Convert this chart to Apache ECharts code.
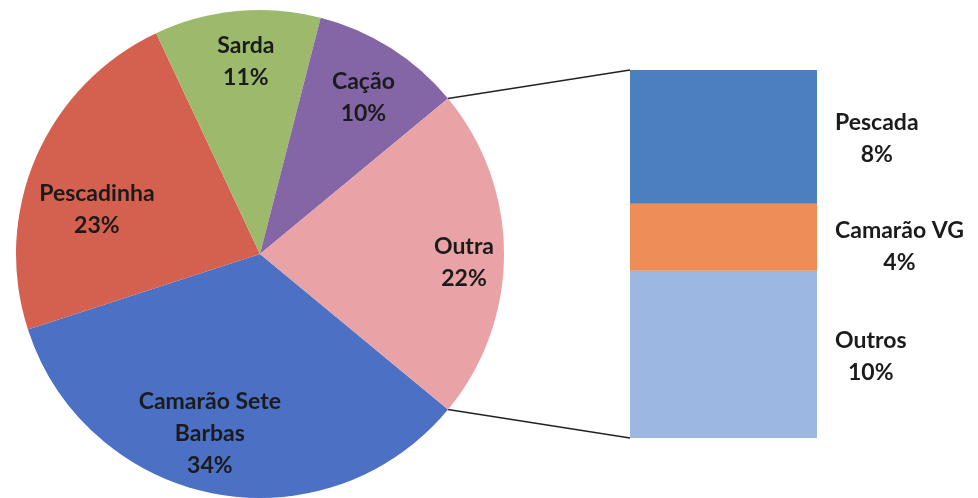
<!DOCTYPE html>
<html>
<head>
<meta charset="utf-8">
<script src="https://cdn.jsdelivr.net/npm/echarts@6/dist/echarts.min.js"></script>
<style>
  html, body { margin: 0; padding: 0; background: #ffffff; }
  #chart { width: 978px; height: 498px; }
</style>
</head>
<body>
<div id="chart"></div>
<script>
// Share of the catch by species (%), clockwise from the lower edge of "Outra"
const pieNames = ['Camarão Sete Barbas', 'Pescadinha', 'Sarda', 'Cação', 'Outra'];
const pieValues = [34, 23, 11, 10, 22];

// Breakdown of "Outra", listed top to bottom
const barNames = ['Pescada', 'Camarão VG', 'Outros'];
const barValues = [8, 4, 10];

const pieColors = ['#4b70c4', '#d4604f', '#9dba6c', '#8466a6', '#e9a3a6'];
const barColors = ['#4a80bf', '#ee8d57', '#9cb8e2'];

const FONT = 'Lato, "Open Sans", sans-serif';
const TEXT = '#1b1b1b';
const FONT_SIZE = 23;

// pie geometry
const CX = 260, CY = 254, R = 244;
// stacked bar geometry
const BAR_LEFT = 630, BAR_TOP = 70, BAR_W = 187, BAR_H = 368;

const total = pieValues.reduce((a, b) => a + b, 0);
const splitName = 'Outra';
const splitValue = pieValues[pieNames.indexOf(splitName)];
const halfSpan = splitValue / total * 360 / 2;   // degrees either side of 3 o'clock

// small label nudges for slices where the text sits off the mid radius
const labelNudge = {
  'Pescadinha': [14, 32],
  'Camarão Sete Barbas': [-14, -10],
  'Outra': [11, 9],
  'Cação': [0, 7],
  'Sarda': [4, 0]
};

const pieData = pieNames.map((n, i) => ({
  name: n,
  value: pieValues[i],
  itemStyle: { color: pieColors[i] }
}));

const labelData = pieNames.map((n, i) => ({
  name: n,
  value: pieValues[i],
  label: labelNudge[n] ? { offset: labelNudge[n] } : {}
}));

// bars stack from the bottom, so feed them in reverse order
const barSeries = barNames.map((n, i) => ({
  name: n,
  type: 'bar',
  stack: 'outra',
  barWidth: '100%',
  data: [barValues[i]],
  itemStyle: { color: barColors[i] },
  label: {
    show: true,
    position: 'right',
    distance: 18,
    offset: n === 'Camarão VG' ? [0, 9] : [0, 2],
    formatter: '{c|{a}}\n{c|{c}%}',
    rich: {
      c: { align: 'center', fontFamily: FONT, fontWeight: 'bold', fontSize: FONT_SIZE, lineHeight: 32, color: TEXT }
    }
  },
  silent: true,
  animation: false
})).reverse();

const chart = echarts.init(document.getElementById('chart'), null, { renderer: 'canvas' });

chart.setOption({
  animation: false,
  backgroundColor: '#ffffff',
  grid: { left: BAR_LEFT, top: BAR_TOP, width: BAR_W, height: BAR_H, containLabel: false },
  xAxis: { type: 'category', data: [splitName], show: false },
  yAxis: { type: 'value', min: 0, max: splitValue, show: false },
  series: [
    {
      type: 'pie',
      center: [CX, CY],
      radius: [0, R],
      startAngle: -halfSpan,
      clockwise: true,
      data: pieData,
      label: { show: false },
      labelLine: { show: false },
      itemStyle: { borderWidth: 0 },
      silent: true
    },
    {
      // label layer: inside labels sit midway between the two radii
      type: 'pie',
      center: [CX, CY],
      radius: [136, R],
      startAngle: -halfSpan,
      clockwise: true,
      data: labelData,
      itemStyle: { color: 'rgba(0,0,0,0)', borderWidth: 0 },
      label: {
        show: true,
        position: 'inside',
        formatter: p => (p.name === 'Camarão Sete Barbas' ? 'Camarão Sete\nBarbas' : p.name) + '\n' + p.value + '%',
        fontFamily: FONT,
        fontWeight: 'bold',
        fontSize: FONT_SIZE,
        lineHeight: 32,
        color: TEXT,
        align: 'center'
      },
      labelLine: { show: false },
      silent: true
    },
    ...barSeries
  ]
});

// connector lines from the "Outra" slice edges to the bar corners
const rad = halfSpan * Math.PI / 180;
const pTop = [CX + R * Math.cos(rad), CY - R * Math.sin(rad)];
const pBot = [CX + R * Math.cos(rad), CY + R * Math.sin(rad)];
const barTopY = chart.convertToPixel({ gridIndex: 0 }, [0, splitValue])[1];
const barBotY = chart.convertToPixel({ gridIndex: 0 }, [0, 0])[1];

chart.setOption({
  graphic: [
    { type: 'line', shape: { x1: pTop[0], y1: pTop[1], x2: BAR_LEFT, y2: barTopY },
      style: { stroke: '#222222', lineWidth: 1.5 }, silent: true },
    { type: 'line', shape: { x1: pBot[0], y1: pBot[1], x2: BAR_LEFT, y2: barBotY },
      style: { stroke: '#222222', lineWidth: 1.5 }, silent: true }
  ]
});
</script>
</body>
</html>
